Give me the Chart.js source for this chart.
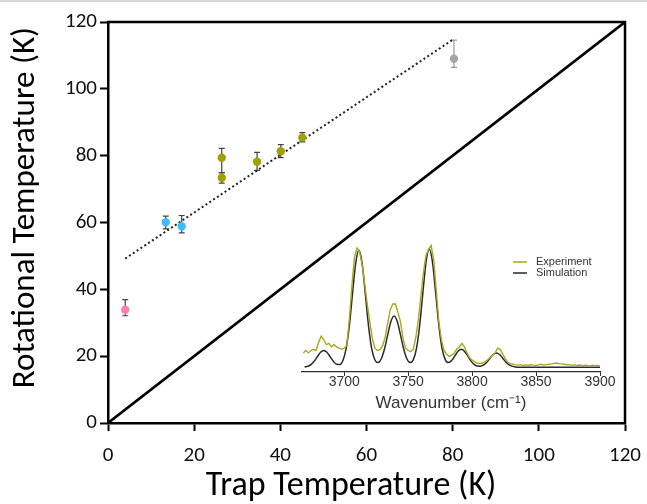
<!DOCTYPE html>
<html>
<head>
<meta charset="utf-8">
<script src="https://cdn.jsdelivr.net/npm/chart.js@4.4.0/dist/chart.umd.min.js"></script>
<style>
  body { margin: 0; background: #fff; }
  #wrap { position: relative; width: 647px; height: 504px; overflow: hidden; }
  #topLine { position: absolute; left: 0; top: 0; width: 647px; height: 2px; background: #d6d6d6; }
  #mainChart { position: absolute; left: 0; top: 0; }
  #insetChart { position: absolute; left: 292px; top: 226px; }
</style>
</head>
<body>
<div id="wrap">
  <canvas id="mainChart" width="647" height="504"></canvas>
  <canvas id="insetChart" width="330" height="195"></canvas>
  <div id="topLine"></div>
</div>
<script>
// trap temperature vs rotational temperature (K), one group per marker colour
const pinkTrap = [4];
const pinkRot = [33.9];
const pinkErrUp = [3.0];
const pinkErrDown = [1.8];

const blueTrap = [13.4, 17.1];
const blueRot = [60.1, 58.9];
const blueErrUp = [1.8, 3.2];
const blueErrDown = [2.0, 2.0];

const oliveTrap = [26.4, 26.4, 34.6, 40.1, 45.1];
const oliveRot = [79.4, 73.4, 78.2, 81.3, 85.4];
const oliveErrUp = [2.8, 1.5, 2.8, 2.0, 1.5];
const oliveErrDown = [4.5, 1.6, 2.6, 1.9, 1.3];

const greyTrap = [80.3];
const greyRot = [109.0];
const greyErrUp = [5.6];
const greyErrDown = [2.6];

// dotted linear fit and the T_rot = T_trap line
const fitTrap = [4, 80];
const fitRot = [49.2, 114.7];
const equalTrap = [0, 120];
const equalRot = [0, 120];

const mainTicks = [0, 20, 40, 60, 80, 100, 120];

// inset spectrum (normalised intensity)
const expWavenumber = [
  3668, 3670, 3672, 3674, 3676, 3678, 3680, 3682, 3684, 3686, 3688, 3690, 3692, 3694, 3696, 3698,
  3700, 3702, 3704, 3706, 3708, 3710, 3712, 3714, 3716, 3718, 3720, 3722, 3724, 3726, 3728, 3730,
  3732, 3734, 3736, 3738, 3740, 3742, 3744, 3746, 3748, 3750, 3752, 3754, 3756, 3758, 3760, 3762,
  3764, 3766, 3768, 3770, 3772, 3774, 3776, 3778, 3780, 3782, 3784, 3786, 3788, 3790, 3792, 3794,
  3796, 3798, 3800, 3802, 3804, 3806, 3808, 3810, 3812, 3814, 3816, 3818, 3820, 3822, 3824, 3826,
  3828, 3830, 3832, 3834, 3836, 3838, 3840, 3842, 3844, 3846, 3848, 3850, 3852, 3854, 3856, 3858,
  3860, 3862, 3864, 3866, 3868, 3870, 3872, 3874, 3876, 3878, 3880, 3882, 3884, 3886, 3888, 3890,
  3892, 3894, 3896, 3898, 3900
];
const expSignal = [
  0.12, 0.14, 0.12, 0.14, 0.15, 0.14, 0.21, 0.26, 0.23, 0.19, 0.20, 0.17, 0.19, 0.17, 0.16, 0.15,
  0.16, 0.18, 0.40, 0.68, 0.92, 1.00, 0.97, 0.86, 0.70, 0.53, 0.38, 0.24, 0.16, 0.14, 0.15, 0.18,
  0.25, 0.37, 0.48, 0.53, 0.53, 0.46, 0.38, 0.24, 0.16, 0.14, 0.13, 0.15, 0.25, 0.40, 0.60, 0.80,
  0.94, 0.99, 1.02, 0.90, 0.64, 0.38, 0.23, 0.14, 0.11, 0.09, 0.10, 0.12, 0.15, 0.17, 0.20, 0.17,
  0.12, 0.08, 0.06, 0.045, 0.035, 0.03, 0.035, 0.045, 0.06, 0.08, 0.10, 0.12, 0.16, 0.15, 0.11, 0.07,
  0.04, 0.03, 0.025, 0.02, 0.018, 0.022, 0.015, 0.02, 0.017, 0.022, 0.018, 0.015, 0.02, 0.025, 0.018, 0.022,
  0.025, 0.028, 0.032, 0.035, 0.03, 0.028, 0.025, 0.02, 0.022, 0.016, 0.02, 0.015, 0.018, 0.012, 0.016, 0.014,
  0.01, 0.016, 0.012, 0.014, 0.01
];
const simWavenumber = [
  3669, 3671.5, 3674, 3676.5, 3679, 3681.5, 3684, 3686.5, 3689, 3691.5, 3694, 3696.5, 3699, 3701.5,
  3704, 3706.5, 3709, 3711.5, 3714, 3716.5, 3719, 3721.5, 3724, 3726.5, 3729, 3731.5, 3734, 3736.5,
  3739, 3741.5, 3744, 3746.5, 3749, 3751.5, 3754, 3756.5, 3759, 3761.5, 3764, 3766.5, 3769, 3771.5,
  3774, 3776.5, 3779, 3781.5, 3784, 3786.5, 3789, 3791.5, 3794, 3796.5, 3799, 3801.5, 3804, 3806.5,
  3809, 3811.5, 3814, 3816.5, 3819, 3821.5, 3824, 3826.5, 3829, 3831.5, 3834, 3836.5, 3850, 3875, 3900
];
const simSignal = [
  0.002, 0.008, 0.022, 0.050, 0.088, 0.125, 0.140, 0.125, 0.088, 0.050, 0.025, 0.023, 0.057, 0.155,
  0.346, 0.617, 0.873, 0.980, 0.873, 0.617, 0.347, 0.156, 0.061, 0.039, 0.071, 0.153, 0.271, 0.383,
  0.430, 0.383, 0.271, 0.153, 0.071, 0.039, 0.062, 0.157, 0.350, 0.623, 0.882, 0.990, 0.882, 0.623,
  0.351, 0.158, 0.064, 0.039, 0.056, 0.095, 0.134, 0.150, 0.134, 0.095, 0.053, 0.024, 0.010, 0.009,
  0.019, 0.042, 0.076, 0.107, 0.120, 0.107, 0.076, 0.042, 0.019, 0.007, 0.002, 0, 0, 0, 0
];
const insetTicks = [3700, 3750, 3800, 3850, 3900];

const mainFont = 'Carlito, Lato, sans-serif';
const insetFont = '"Liberation Sans", Arial, sans-serif';

function toPoints(xs, ys) {
  return xs.map((x, i) => ({ x: x, y: ys[i] }));
}

function markerSet(label, xs, ys, up, down, color, errColor) {
  return {
    label: label,
    data: toPoints(xs, ys),
    errUp: up,
    errDown: down,
    errColor: errColor,
    pointRadius: 4.2,
    pointBackgroundColor: color,
    pointBorderWidth: 0,
    showLine: false
  };
}

// vertical error bars with caps, drawn under the markers
const errorBars = {
  id: 'errorBars',
  beforeDatasetsDraw(chart) {
    const ctx = chart.ctx;
    const xs = chart.scales.x, ys = chart.scales.y;
    chart.data.datasets.forEach(ds => {
      if (!ds.errUp) return;
      ctx.save();
      ctx.strokeStyle = ds.errColor;
      ctx.lineWidth = 1.2;
      ds.data.forEach((p, i) => {
        const px = xs.getPixelForValue(p.x);
        const top = ys.getPixelForValue(p.y + ds.errUp[i]);
        const bot = ys.getPixelForValue(p.y - ds.errDown[i]);
        ctx.beginPath();
        ctx.moveTo(px, top); ctx.lineTo(px, bot);
        ctx.moveTo(px - 3, top); ctx.lineTo(px + 3, top);
        ctx.moveTo(px - 3, bot); ctx.lineTo(px + 3, bot);
        ctx.stroke();
      });
      ctx.restore();
    });
  }
};

// closes the plot box on the top and right
const frame = {
  id: 'frame',
  afterDraw(chart) {
    const { ctx, chartArea: a } = chart;
    ctx.save();
    ctx.strokeStyle = '#000';
    ctx.lineWidth = 2.5;
    ctx.beginPath();
    ctx.moveTo(a.left - 1, a.top);
    ctx.lineTo(a.right, a.top);
    ctx.lineTo(a.right, a.bottom + 1);
    ctx.stroke();
    ctx.restore();
  }
};

function mainAxis(title, fit, tickPad, titleSize, titlePad) {
  return {
    type: 'linear',
    min: 0,
    max: 120,
    afterBuildTicks: s => { s.ticks = mainTicks.map(v => ({ value: v })); },
    afterFit: s => {
      fit(s);
      s.paddingLeft = 0; s.paddingRight = 0; s.paddingTop = 0; s.paddingBottom = 0;
    },
    grid: { drawOnChartArea: false, drawTicks: true, tickLength: 8, tickWidth: 2, tickColor: '#000' },
    border: { display: true, color: '#000', width: 2.5 },
    ticks: { color: '#111', font: { family: mainFont, size: 21 }, padding: tickPad, callback: v => String(v) },
    title: { display: true, text: title, color: '#000', font: { family: mainFont, size: titleSize }, padding: titlePad }
  };
}

new Chart(document.getElementById('mainChart'), {
  type: 'scatter',
  data: {
    datasets: [
      markerSet('4 K', pinkTrap, pinkRot, pinkErrUp, pinkErrDown, '#ff80b4', '#444'),
      markerSet('blue', blueTrap, blueRot, blueErrUp, blueErrDown, '#3dbdfb', '#444'),
      markerSet('olive', oliveTrap, oliveRot, oliveErrUp, oliveErrDown, '#a0a000', '#444'),
      markerSet('grey', greyTrap, greyRot, greyErrUp, greyErrDown, '#a5a5a5', '#9a9a9a'),
      {
        label: 'fit',
        data: toPoints(fitTrap, fitRot),
        showLine: true,
        borderColor: '#222',
        borderWidth: 2,
        borderDash: [2, 2.6],
        pointRadius: 0
      },
      {
        label: 'equal',
        data: toPoints(equalTrap, equalRot),
        showLine: true,
        borderColor: '#000',
        borderWidth: 2.6,
        pointRadius: 0
      }
    ]
  },
  options: {
    responsive: false,
    animation: false,
    devicePixelRatio: 1,
    layout: { padding: { top: 22, right: 22, left: 0, bottom: 0 } },
    plugins: { legend: { display: false }, tooltip: { enabled: false } },
    scales: {
      // extra spaces nudge the centred titles off-centre like the original
      x: mainAxis('Trap Temperature (K)    ', s => { s.height = 81; }, 12, 34, { top: 0, bottom: -3 }),
      y: mainAxis('    Rotational Temperature (K)', s => { s.width = 108; }, 3, 33, { top: 6, bottom: 0 })
    }
  },
  plugins: [errorBars, frame]
});

// small legend in the top right of the inset
const insetLegend = {
  id: 'insetLegend',
  afterDraw(chart) {
    const { ctx, chartArea: a } = chart;
    ctx.save();
    ctx.font = '11px ' + insetFont;
    ctx.textBaseline = 'middle';
    chart.data.datasets.forEach((ds, i) => {
      const y = a.top + 26 + i * 11;
      ctx.strokeStyle = ds.borderColor;
      ctx.lineWidth = 1.5;
      ctx.beginPath();
      ctx.moveTo(a.right - 87, y);
      ctx.lineTo(a.right - 73, y);
      ctx.stroke();
      ctx.fillStyle = '#333';
      ctx.fillText(ds.label, a.right - 64, y);
    });
    ctx.restore();
  }
};

new Chart(document.getElementById('insetChart'), {
  type: 'scatter',
  data: {
    datasets: [
      {
        label: 'Experiment',
        data: toPoints(expWavenumber, expSignal),
        showLine: true,
        borderColor: '#a8a81c',
        borderWidth: 1.4,
        pointRadius: 0,
        tension: 0
      },
      {
        label: 'Simulation',
        data: toPoints(simWavenumber, simSignal),
        showLine: true,
        borderColor: '#2a2a2a',
        borderWidth: 1.5,
        pointRadius: 0,
        cubicInterpolationMode: 'monotone'
      }
    ]
  },
  options: {
    responsive: false,
    animation: false,
    devicePixelRatio: 1,
    layout: { padding: { top: 10, right: 22, left: 10, bottom: 0 } },
    plugins: { legend: { display: false }, tooltip: { enabled: false } },
    scales: {
      x: {
        type: 'linear',
        min: 3667,
        max: 3900,
        afterBuildTicks: s => { s.ticks = insetTicks.map(v => ({ value: v })); },
        afterFit: s => { s.height = 49; },
        grid: { drawOnChartArea: false, drawTicks: true, tickLength: 4, color: '#333' },
        border: { display: true, color: '#333', width: 1.2 },
        ticks: { color: '#333', font: { family: insetFont, size: 14 }, padding: -2, maxRotation: 0, callback: v => String(v) },
        title: { display: true, text: 'Wavenumber (cm⁻¹)', color: '#333', font: { family: insetFont, size: 17 }, padding: { top: 0, bottom: 7 } }
      },
      y: { display: false, min: -0.04, max: 1.1 }
    }
  },
  plugins: [insetLegend]
});
</script>
</body>
</html>
